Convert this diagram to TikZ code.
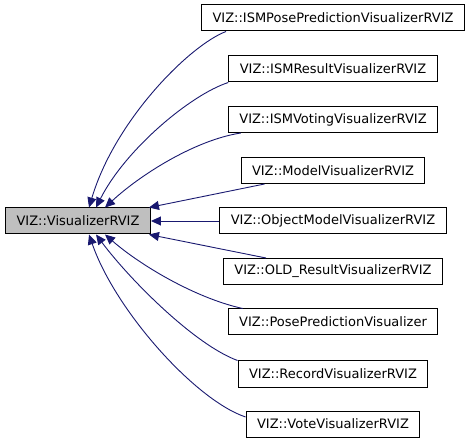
\documentclass[tikz,border=0pt]{standalone}
\usepackage{fontspec}
\setmainfont{DejaVu Sans}
\usepackage{xcolor}
\usepackage{tikz}
\usetikzlibrary{arrows.meta}

\definecolor{edgeblue}{HTML}{191970}
\definecolor{basegray}{HTML}{BFBFBF}

\tikzset{
	cls/.style={draw=black,line width=1pt,fill=white,inner xsep=11pt,inner ysep=0pt,minimum height=26pt,font=\fontsize{13}{15}\selectfont},
	basecls/.style={cls,fill=basegray},
	inh/.style={draw=edgeblue,line width=0.9pt,-{Triangle[length=10pt,width=9pt]}}
}

\begin{document}
\begin{tikzpicture}[x=1pt,y=-1pt]
				\useasboundingbox (0,0) rectangle (471,443);
				
				\node[basecls] (base) at (78,221) {VIZ::VisualizerRVIZ};
				
				\node[cls] (ismpose) at (333,18) {VIZ::ISMPosePredictionVisualizerRVIZ};
				\node[cls] (ismres) at (333,69) {VIZ::ISMResultVisualizerRVIZ};
				\node[cls] (ismvote) at (333,119.5) {VIZ::ISMVotingVisualizerRVIZ};
				\node[cls] (model) at (333,170.5) {VIZ::ModelVisualizerRVIZ};
				\node[cls] (objmodel) at (333,221) {VIZ::ObjectModelVisualizerRVIZ};
				\node[cls] (oldres) at (333,271.5) {VIZ::OLD\_ResultVisualizerRVIZ};
				\node[cls] (pose) at (333,322) {VIZ::PosePredictionVisualizer};
				\node[cls] (record) at (333,374) {VIZ::RecordVisualizerRVIZ};
				\node[cls] (vote) at (333,424) {VIZ::VoteVisualizerRVIZ};
				
				%upper children
				\draw[inh] ([xshift=25pt]ismpose.south west) .. controls (190,45) and (115,120) .. ([xshift=84pt]base.north west);
				\draw[inh] (ismres.south west) .. controls (190,95) and (125,150) .. ([xshift=91pt]base.north west);
				\draw[inh] ([xshift=13pt]ismvote.south west) .. controls (195,140) and (140,175) .. ([xshift=100pt]base.north west);
				\draw[inh] ([xshift=24pt]model.south west) -- ([xshift=-2pt]base.north east);
				\draw[inh] (objmodel.west) -- (base.east);
				%lower children
				\draw[inh] ([xshift=43pt]oldres.north west) -- ([xshift=-2pt]base.south east);
				\draw[inh] ([xshift=15pt]pose.north west) .. controls (195,298) and (140,265) .. ([xshift=100pt]base.south west);
				\draw[inh] (record.north west) .. controls (195,345) and (130,280) .. ([xshift=91pt]base.south west);
				\draw[inh] ([yshift=7pt]vote.west) .. controls (195,400) and (115,310) .. ([xshift=84pt]base.south west);
\end{tikzpicture}
\end{document}
